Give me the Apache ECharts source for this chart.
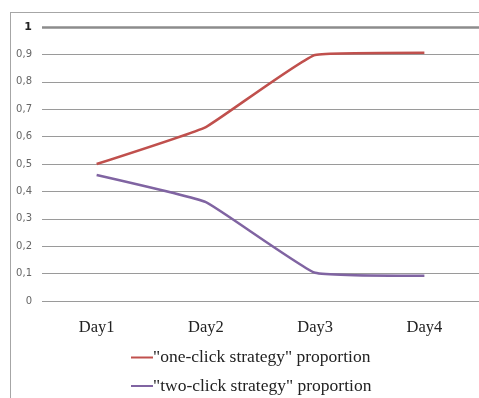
<!DOCTYPE html>
<html><head><meta charset="utf-8">
<script src="https://cdn.jsdelivr.net/npm/echarts@6/dist/echarts.min.js"></script>
<style>html,body{margin:0;padding:0;background:#fff}#c{width:479px;height:398px}</style>
</head><body><div id="c"></div>
<script>
const categories = ["Day1", "Day2", "Day3", "Day4"];
const oneClick = [0.50, 0.635, 0.898, 0.906];
const twoClick = [0.46, 0.361, 0.103, 0.092];
const seriesNames = ['"one-click strategy" proportion', '"two-click strategy" proportion'];
const yTicks = [0, 0.1, 0.2, 0.3, 0.4, 0.5, 0.6, 0.7, 0.8, 0.9, 1];

const legendBase = {
  orient: 'vertical', left: 131, padding: 0,
  itemWidth: 22, itemHeight: 2, icon: 'rect',
  textStyle: {fontFamily: 'Liberation Serif', fontSize: 17.5, color: '#222', padding: [0,0,0,-5]}
};

const chart = echarts.init(document.getElementById('c'));
chart.setOption({
  animation: false,
  backgroundColor: '#fff',
  graphic: [
    {type: 'line', shape: {x1: 10, y1: 12.5, x2: 479, y2: 12.5}, style: {stroke: '#a6a6a6', lineWidth: 1}},
    {type: 'line', shape: {x1: 10.5, y1: 12, x2: 10.5, y2: 398}, style: {stroke: '#a6a6a6', lineWidth: 1}}
  ],
  grid: {left: 42, right: 0, top: 27, bottom: 97},
  xAxis: {
    type: 'category', data: categories, boundaryGap: true,
    axisLine: {show: false}, axisTick: {show: false},
    axisLabel: {fontFamily: 'Liberation Serif', fontSize: 16.5, color: '#222', margin: 18}
  },
  yAxis: {
    type: 'value', min: 0, max: 1, interval: 0.1,
    axisLine: {show: false}, axisTick: {show: false},
    splitLine: {lineStyle: {color: '#9a9a9a', width: 1}},
    axisLabel: {
      fontFamily: 'DejaVu Sans', fontSize: 10, color: '#666', margin: 10,
      formatter: v => {
        const t = yTicks.find(x => Math.abs(x - v) < 1e-6);
        const s = (t === undefined ? v : t).toString().replace('.', ',');
        return v === 1 ? '{b|' + s + '}' : s;
      },
      rich: {b: {fontFamily: 'DejaVu Sans', fontSize: 11, fontWeight: 'bold', color: '#222'}}
    }
  },
  legend: [
    Object.assign({}, legendBase, {top: 348.5, data: [seriesNames[0]]}),
    Object.assign({}, legendBase, {top: 377, data: [seriesNames[1]]})
  ],
  series: [
    {name: seriesNames[0], type: 'line', data: oneClick, symbol: 'none', smooth: 0.1,
     lineStyle: {color: '#c0504d', width: 2.5}, itemStyle: {color: '#c0504d'},
     markLine: {silent: true, symbol: 'none', label: {show: false},
       lineStyle: {color: '#8c8c8c', width: 2.5, type: 'solid'}, data: [{yAxis: 1}]}},
    {name: seriesNames[1], type: 'line', data: twoClick, symbol: 'none', smooth: 0.1,
     lineStyle: {color: '#8064a2', width: 2.5}, itemStyle: {color: '#8064a2'}}
  ]
});
</script></body></html>
